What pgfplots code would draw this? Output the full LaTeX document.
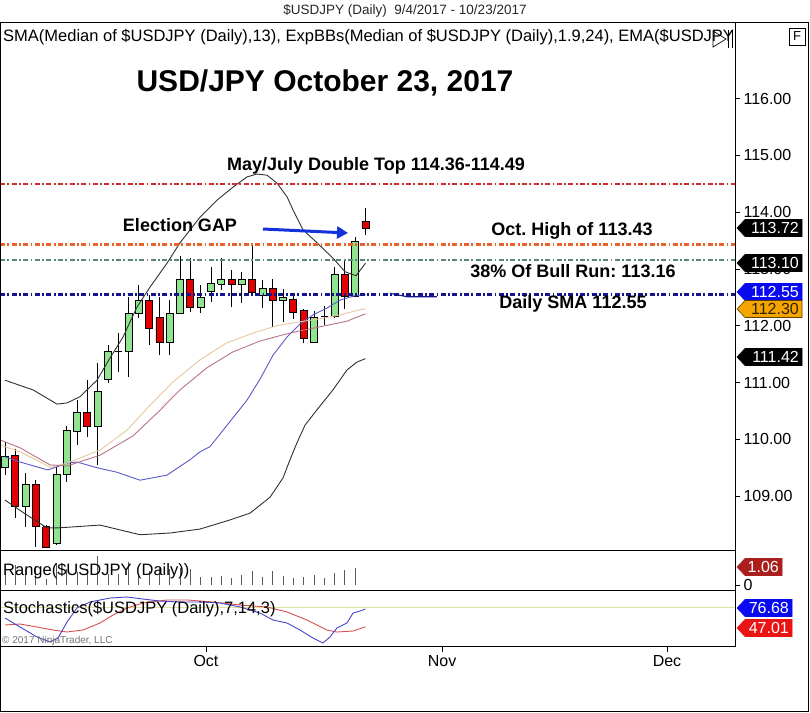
\documentclass[border=0pt]{standalone}
\usepackage{fontspec}
\setmainfont{Liberation Sans}
\usepackage{pgfplots}
\pgfplotsset{compat=1.18}
\usetikzlibrary{arrows.meta}

\definecolor{cgreen}{RGB}{144,228,144}
\definecolor{cred}{RGB}{228,0,0}
\definecolor{lred}{RGB}{210,45,45}
\definecolor{lorange}{RGB}{232,100,45}
\definecolor{lgray}{RGB}{90,135,120}
\definecolor{lnavy}{RGB}{20,20,140}
\definecolor{bband}{RGB}{50,50,50}
\definecolor{smablue}{RGB}{90,90,200}
\definecolor{tanl}{RGB}{232,200,160}
\definecolor{mauve}{RGB}{185,115,135}
\definecolor{arrowblue}{RGB}{20,50,220}
\definecolor{tagblue}{RGB}{10,10,240}
\definecolor{tagorange}{RGB}{245,165,0}
\definecolor{tagdred}{RGB}{170,30,30}
\definecolor{tagred}{RGB}{235,20,20}
\definecolor{stblue}{RGB}{70,70,200}
\definecolor{stred}{RGB}{215,80,80}
\definecolor{ylw}{RGB}{225,225,160}

\newcommand{\tagfont}{\fontsize{16}{18}\selectfont}
\newcommand{\annfont}{\fontsize{18}{20}\selectfont\bfseries}

% candle: index, open, high, low, close, body colour
\newcommand{\candle}[6]{%
  \pgfmathsetmacro\xl{#1-0.34}\pgfmathsetmacro\xr{#1+0.34}%
  \addplot[black, line width=0.9pt] coordinates {(#1,#4) (#1,#3)};
  \edef\tmpbody{\noexpand\addplot[draw=black, fill=#6, line width=0.9pt, line join=miter]
    coordinates {(\xl,#2) (\xr,#2) (\xr,#5) (\xl,#5) (\xl,#2)};}%
  \tmpbody}
\newcommand{\upc}[5]{\candle{#1}{#2}{#3}{#4}{#5}{cgreen}}
\newcommand{\dnc}[5]{\candle{#1}{#2}{#3}{#4}{#5}{cred}}

% price tag: y(px), right edge, fill, outline, text colour, text
\newcommand{\ptag}[6]{%
  \filldraw[fill=#3, draw=#4, line width=0.6pt] (737,-#1) -- (745,-#1+8.5) -- (#2,-#1+8.5) -- (#2,-#1-8.5) -- (745,-#1-8.5) -- cycle;
  \node[anchor=east, inner sep=0pt, text=#5, font=\tagfont] at (#2-3,-#1) {#6};}

\pgfplotsset{ncbase/.style={scale only axis, anchor=south west, width=735pt,
  xmin=-0.485, xmax=70.874, axis line style={line width=0.8pt, black},
  tick style={black, line width=0.7pt}, tick align=outside, major tick length=5pt,
  ticklabel style={font=\tagfont, text=black},
  /pgf/number format/assume math mode=true},
  level/.style={line width=2.4pt, dash pattern=on 5pt off 2.4pt on 1.8pt off 2.4pt}}

\begin{document}
\frenchspacing
\begin{tikzpicture}[x=1pt,y=1pt]
\useasboundingbox (0,0) rectangle (810,-712);
\fill[white] (0,0) rectangle (810,-712);

% ---------------- main price panel ----------------
\begin{axis}[ncbase, at={(0pt,-550pt)}, height=528pt,
  ymin=108.051, ymax=117.347,
  xtick=\empty,
  ytick={109,110,...,116}, ytick pos=right, yticklabel pos=right,
  yticklabel style={/pgf/number format/fixed, /pgf/number format/fixed zerofill,
    /pgf/number format/precision=2}]

\upc{0}{109.50}{109.95}{109.37}{109.69}
\dnc{1}{109.72}{109.83}{108.62}{108.81}
\upc{2}{108.81}{109.41}{108.46}{109.21}
\dnc{3}{109.20}{109.28}{108.10}{108.46}
\dnc{4}{108.46}{108.49}{108.10}{108.10}
\upc{5}{108.16}{109.51}{108.14}{109.39}
\upc{6}{109.39}{110.23}{109.25}{110.15}
\upc{7}{110.13}{110.69}{109.90}{110.48}
\dnc{8}{110.48}{111.04}{110.04}{110.22}
\upc{9}{110.22}{111.34}{109.55}{110.85}
\upc{10}{111.06}{111.66}{110.99}{111.54}
\upc{11}{111.55}{111.87}{111.19}{111.55}
\upc{12}{111.55}{112.51}{111.10}{112.21}
\upc{13}{112.21}{112.72}{112.14}{112.44}
\dnc{14}{112.45}{112.54}{111.66}{111.96}
\dnc{15}{112.15}{112.51}{111.48}{111.71}
\upc{16}{111.71}{112.45}{111.48}{112.22}
\upc{17}{112.21}{113.23}{112.21}{112.82}
\dnc{18}{112.82}{113.19}{112.24}{112.33}
\upc{19}{112.33}{112.72}{112.22}{112.49}
\upc{20}{112.61}{113.03}{112.42}{112.75}
\upc{21}{112.73}{113.19}{112.63}{112.82}
\dnc{22}{112.82}{112.98}{112.33}{112.72}
\upc{23}{112.72}{112.95}{112.40}{112.81}
\dnc{24}{112.82}{113.44}{112.58}{112.59}
\upc{25}{112.54}{112.81}{112.31}{112.66}
\dnc{26}{112.66}{112.82}{111.98}{112.44}
\upc{27}{112.44}{112.65}{112.07}{112.49}
\dnc{28}{112.47}{112.52}{112.12}{112.24}
\dnc{29}{112.26}{112.29}{111.70}{111.78}
\upc{30}{111.71}{112.26}{111.70}{112.15}
\upc{31}{112.17}{112.35}{112.01}{112.17}
\upc{32}{112.17}{113.03}{112.14}{112.91}
\dnc{33}{112.91}{113.14}{112.29}{112.52}
\upc{34}{112.52}{113.56}{112.52}{113.49}
\dnc{35}{113.84}{114.07}{113.60}{113.72}

% Exp Bollinger bands
\addplot[bband, line width=0.9pt] coordinates {
(0,111.04) (2.72,110.87) (5.05,110.62) (6.02,110.64) (7.28,110.75) (8.93,111.04)
(10.19,111.43) (11.46,111.80) (12.82,112.33) (14.08,112.68) (15.73,113.10)
(16.99,113.46) (18.93,113.91) (20.58,114.21) (22.14,114.44) (23.50,114.62)
(24.47,114.67) (25.44,114.65) (26.41,114.51) (27.38,114.27) (27.96,114.04)
(28.93,113.69) (30.29,113.46) (31.84,113.19) (33.01,112.95) (34.08,112.88) (35,113.10)};
\addplot[bband, line width=0.9pt] coordinates {
(0,108.93) (1.94,108.69) (4.08,108.44) (5.15,108.44) (9.22,108.49) (13.11,108.32)
(16.02,108.35) (18.93,108.42) (21.84,108.58) (23.79,108.70) (25.73,108.98)
(26.99,109.32) (27.67,109.64) (28.35,109.94) (29.13,110.25) (30.29,110.52)
(31.84,110.87) (33.20,111.22) (34.17,111.36) (35,111.42)};
% SMA 13
\addplot[smablue, line width=0.9pt] coordinates {
(0,109.69) (1.46,109.60) (4.17,109.46) (6.02,109.58) (6.99,109.60) (8.93,109.50)
(10.87,109.42) (13.11,109.28) (15.73,109.37) (17.96,109.64) (18.93,109.78)
(19.90,109.87) (22.14,110.38) (23.50,110.69) (24.76,111.06) (26.02,111.48)
(27.38,111.80) (28.64,112.03) (29.90,112.19) (31.26,112.31) (32.52,112.45)
(33.79,112.52) (35,112.55)};
% EMAs
\addplot[tanl, line width=0.9pt] coordinates {
(-0.49,109.90) (1.46,109.78) (4.37,109.51) (6.02,109.58) (9.22,109.81) (11.84,110.16)
(14.08,110.60) (16.31,111.01) (18.93,111.40) (21.55,111.70) (24.08,111.87)
(26.41,112.00) (28.64,112.07) (30.58,112.12) (32.52,112.19) (33.98,112.26) (35,112.30)};
\addplot[mauve, line width=0.9pt] coordinates {
(-0.49,109.99) (1.46,109.85) (4.37,109.55) (6.02,109.53) (9.22,109.72) (12.43,110.06)
(14.76,110.46) (16.99,110.87) (19.61,111.26) (22.14,111.54) (24.76,111.73)
(26.99,111.84) (28.64,111.91) (30.58,111.98) (33.20,112.08) (35,112.21)};
\addplot[lnavy, line width=1.1pt] coordinates {(37.38,112.57) (39.03,112.51) (41.94,112.51)};

% horizontal levels
\addplot[lred, level] coordinates {(-0.485,114.49) (70.874,114.49)};
\addplot[lorange, level] coordinates {(-0.485,113.43) (70.874,113.43)};
\addplot[lgray, level] coordinates {(-0.485,113.16) (70.874,113.16)};
\addplot[lnavy, level, line width=2.8pt] coordinates {(-0.485,112.55) (70.874,112.55)};
\end{axis}

% ---------------- range panel ----------------
\begin{axis}[ncbase, at={(0pt,-590pt)}, height=40pt,
  ymin=-0.3125, ymax=2.1875, xtick=\empty,
  ytick={0}, ytick pos=right, yticklabel pos=right]
\addplot[ycomb, draw=black!65, line width=0.9pt] table[x=i, y=r] {
i r
0 0.60
1 1.24
2 0.97
3 1.20
4 0.40
5 1.40
6 1.00
7 0.81
8 0.99
9 1.83
10 0.68
11 0.70
12 1.44
13 0.59
14 0.90
15 1.06
16 0.99
17 1.05
18 0.97
19 0.50
20 0.48
21 0.58
22 0.42
23 0.62
24 0.88
25 0.52
26 0.89
27 0.56
28 0.42
29 0.48
30 0.62
31 0.42
32 0.73
33 0.94
34 1.06
};
\end{axis}

% ---------------- stochastics panel ----------------
\begin{axis}[ncbase, at={(0pt,-646pt)}, height=56pt,
  ymin=10.71, ymax=110.71, ytick=\empty,
  xtick={19.51,42.43,64.27}, xticklabels={Oct,Nov,Dec},
  xtick pos=bottom, major tick length=6pt]
\addplot[ylw, line width=1pt] coordinates {(-0.485,80) (70.874,80)};
\addplot[stred, line width=0.9pt] coordinates {
(0,48.2) (1.46,50.0) (3.11,44.6) (4.66,39.3) (6.02,35.7) (7.57,39.3) (9.22,51.8)
(10.49,66.0) (11.84,78.6) (13.40,87.5) (15.73,92.9) (17.67,92.9) (20.19,89.3)
(22.82,83.9) (25.44,80.4) (27.38,71.4) (29.32,57.1) (31.26,39.3) (32.23,35.7)
(33.79,37.5) (35,45.0)};
\addplot[stblue, line width=0.9pt] coordinates {
(0,60.7) (1.46,44.6) (3.11,26.8) (4.37,17.9) (5.15,25.0) (6.02,53.6) (6.99,78.6)
(8.25,89.3) (10.19,96.4) (11.84,98.2) (13.40,94.6) (15.05,91.0) (16.99,89.3)
(18.93,89.3) (20.87,87.5) (22.82,80.4) (24.76,69.6) (26.02,57.1) (27.38,51.8)
(28.64,39.3) (29.90,25.0) (30.87,16.1) (31.55,26.8) (32.23,42.9) (33.20,51.8)
(33.79,69.6) (34.47,73.2) (35,76.68)};
\end{axis}

% ---------------- frame and header ----------------
\draw[black, line width=0.9pt] (0.5,-22) rectangle (808.5,-711);
\node[font=\fontsize{13.5}{15}\selectfont, text=black!85] at (405,-11) {\$USDJPY (Daily)\ \ 9/4/2017 - 10/23/2017};
\begin{scope}
\clip (0,-23) rectangle (735,-52);
\node[anchor=west, inner sep=0pt, font=\fontsize{16.5}{18}\selectfont] at (3,-37) {SMA(Median of \$USDJPY (Daily),13), ExpBBs(Median of \$USDJPY (Daily),1.9,24), EMA(\$USDJPY};
\end{scope}
\draw[line width=0.7pt] (713,-31) -- (726,-39) -- (713,-47) -- cycle;
\draw[line width=0.8pt] (728,-30) -- (728,-48) (732,-30) -- (732,-48);
\draw[line width=0.7pt] (789,-28) rectangle (805,-45);
\node[font=\fontsize{13}{14}\selectfont] at (797,-36.5) {F};

% annotations
\node[font=\fontsize{30}{32}\selectfont\bfseries] at (325,-83) {USD/JPY October 23, 2017};
\node[font=\annfont] at (376,-166) {May/July Double Top 114.36-114.49};
\node[font=\annfont] at (180,-225) {Election GAP};
\node[font=\annfont] at (572,-231) {Oct. High of 113.43};
\node[font=\annfont] at (573,-271) {38\% Of Bull Run: 113.16};
\node[font=\annfont] at (573,-304) {Daily SMA 112.55};
\draw[arrowblue, line width=3pt, -{Triangle[length=11pt,width=12pt]}] (263,-229) -- (348,-233);

% panel texts
\node[anchor=west, inner sep=0pt, font=\fontsize{16.5}{18}\selectfont] at (3,-571) {Range(\$USDJPY (Daily))};
\node[anchor=west, inner sep=0pt, font=\fontsize{16.5}{18}\selectfont] at (3,-609) {Stochastics(\$USDJPY (Daily),7,14,3)};
\node[anchor=west, inner sep=0pt, font=\fontsize{10}{11}\selectfont, text=black!55] at (2,-641) {\textcopyright{} 2017 NinjaTrader, LLC};

% value tags
\ptag{228}{802}{black}{black}{white}{113.72}
\ptag{263}{802}{black}{black}{white}{113.10}
\ptag{292}{802}{tagblue}{tagblue}{white}{112.55}
\ptag{309}{802}{tagorange}{black!60!tagorange}{black!80!tagorange}{112.30}
\ptag{357}{802}{black}{black}{white}{111.42}
\ptag{567}{782}{tagdred}{tagdred}{white}{1.06}
\ptag{608}{792}{tagblue}{tagblue}{white}{76.68}
\ptag{628}{792}{tagred}{tagred}{white}{47.01}
\end{tikzpicture}
\end{document}
